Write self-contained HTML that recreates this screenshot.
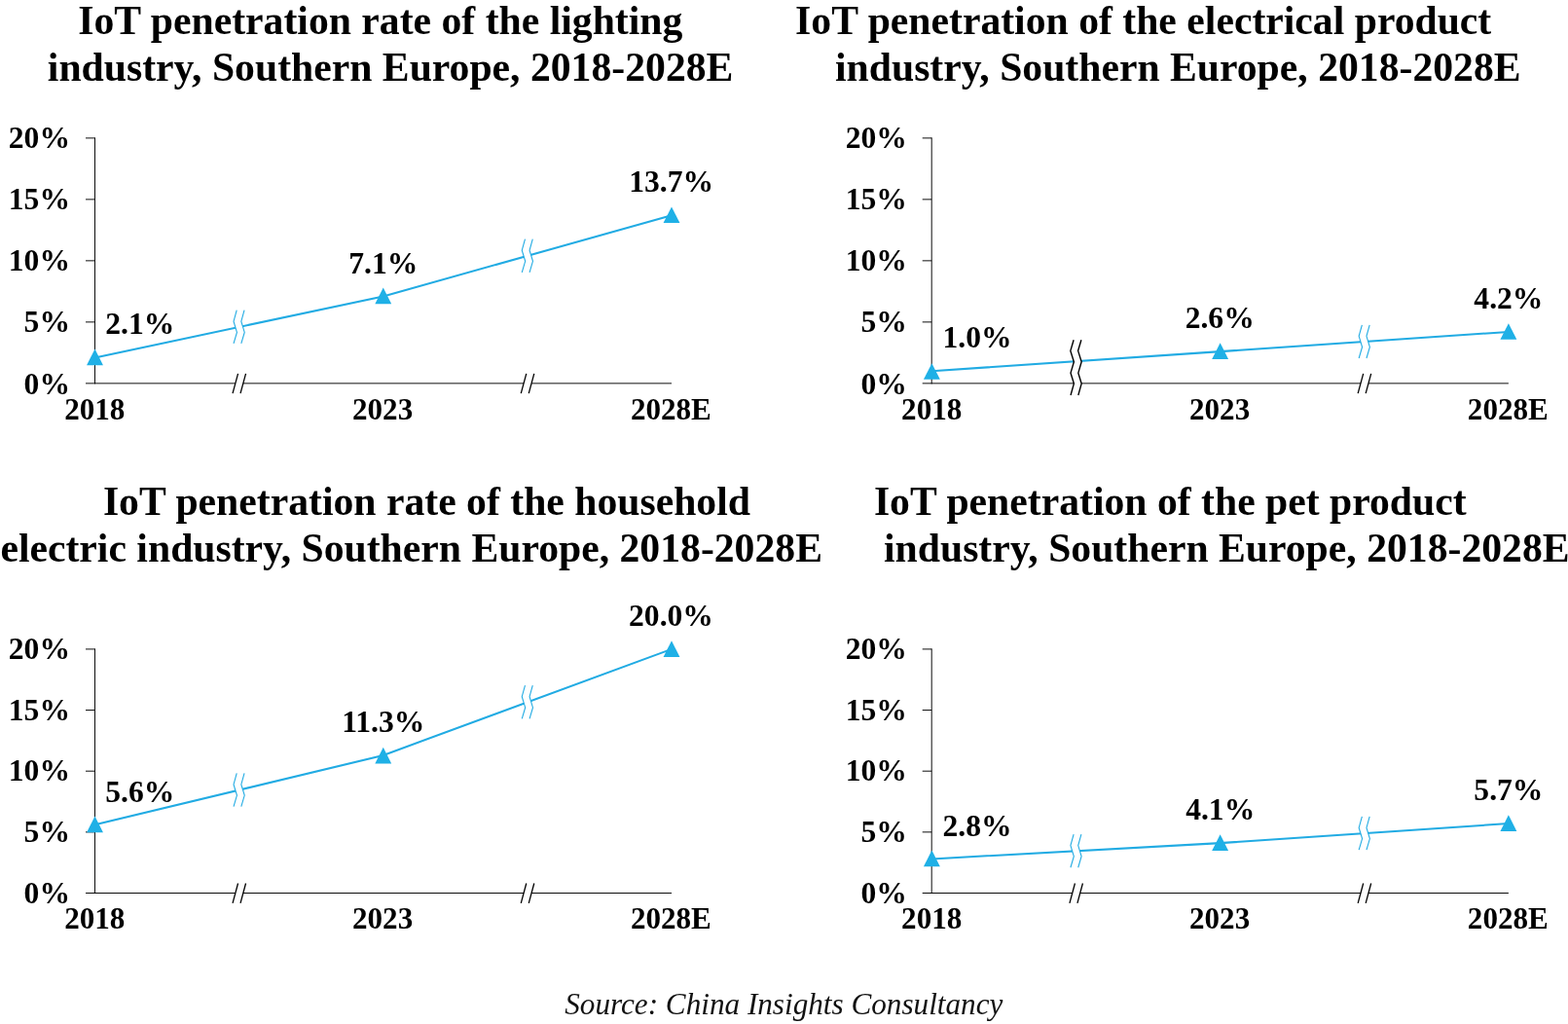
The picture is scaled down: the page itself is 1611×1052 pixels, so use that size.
<!DOCTYPE html>
<html lang="en">
<head>
<meta charset="utf-8">
<title>IoT penetration, Southern Europe, 2018-2028E</title>
<style>
html,body{margin:0;padding:0;background:#fff;}
body{width:1611px;height:1052px;overflow:hidden;font-family:"Liberation Serif",serif;}
svg{display:block;}
text{font-family:"Liberation Serif",serif;fill:#000;}
.t{font-size:31.6px;font-weight:bold;}
.x{font-size:31.1px;font-weight:bold;}
.h{font-size:41.7px;font-weight:bold;}
.s{font-size:31.2px;font-style:italic;fill:#111;}
</style>
</head>
<body>
<svg width="1611" height="1052" viewBox="0 0 1611 1052">
<g id="c1">
<path d="M97.5 141.37V394.37M88.00 393.87H690.00M88.00 330.87H97.5M88.00 267.87H97.5M88.00 204.87H97.5M88.00 141.87H97.5" stroke="#000" stroke-width="0.95" fill="none"/>
<text class="t" x="72.0" y="404.57" text-anchor="end">0%</text>
<text class="t" x="72.0" y="341.47" text-anchor="end">5%</text>
<text class="t" x="72.0" y="278.37" text-anchor="end">10%</text>
<text class="t" x="72.0" y="215.27" text-anchor="end">15%</text>
<text class="t" x="72.0" y="152.17" text-anchor="end">20%</text>
<text class="x" x="97.3" y="431.1" text-anchor="middle">2018</text>
<text class="x" x="393.1" y="431.1" text-anchor="middle">2023</text>
<text class="x" x="689.4" y="431.1" text-anchor="middle">2028E</text>
<polyline points="97.50,367.41 393.75,304.41 690.00,221.25" stroke="#21abe3" stroke-width="2.05" fill="none"/>
<path d="M243.22 318.71L240.03 330.21L243.43 341.41L240.03 352.91L247.82 352.91L251.22 341.41L247.82 330.21L251.03 318.71Z" fill="#fff"/><path d="M243.22 318.71L240.03 330.21L243.43 341.41L240.03 352.91 M251.03 318.71L247.83 330.21L251.23 341.41L247.83 352.91" stroke="#21abe3" stroke-width="1.1" fill="none"/>
<path d="M244.53 383.87L239.03 404.17H247.03L252.53 383.87Z" fill="#fff"/><path d="M244.53 383.87L239.03 404.17M252.53 383.87L247.03 404.17" stroke="#000" stroke-width="1.3" fill="none"/>
<path d="M539.48 245.63L536.27 257.13L539.67 268.33L536.27 279.83L544.08 279.83L547.48 268.33L544.08 257.13L547.27 245.63Z" fill="#fff"/><path d="M539.48 245.63L536.27 257.13L539.67 268.33L536.27 279.83 M547.27 245.63L544.07 257.13L547.47 268.33L544.07 279.83" stroke="#21abe3" stroke-width="1.1" fill="none"/>
<path d="M540.77 383.87L535.27 404.17H543.27L548.77 383.87Z" fill="#fff"/><path d="M540.77 383.87L535.27 404.17M548.77 383.87L543.27 404.17" stroke="#000" stroke-width="1.3" fill="none"/>
<path d="M97.50 358.61L105.95 375.21H89.05Z" fill="#1fb0e6"/>
<path d="M393.75 295.61L402.20 312.21H385.30Z" fill="#1fb0e6"/>
<path d="M690.00 212.45L698.45 229.05H681.55Z" fill="#1fb0e6"/>
<text class="t" x="143.8" y="343.1" text-anchor="middle">2.1%</text>
<text class="t" x="393.8" y="280.5" text-anchor="middle">7.1%</text>
<text class="t" x="689.7" y="197.1" text-anchor="middle">13.7%</text>
</g>
<g id="c2">
<path d="M957.2 141.37V394.37M947.70 393.87H1549.90M947.70 330.87H957.2M947.70 267.87H957.2M947.70 204.87H957.2M947.70 141.87H957.2" stroke="#000" stroke-width="0.95" fill="none"/>
<text class="t" x="931.9" y="404.57" text-anchor="end">0%</text>
<text class="t" x="931.9" y="341.47" text-anchor="end">5%</text>
<text class="t" x="931.9" y="278.37" text-anchor="end">10%</text>
<text class="t" x="931.9" y="215.27" text-anchor="end">15%</text>
<text class="t" x="931.9" y="152.17" text-anchor="end">20%</text>
<text class="x" x="957.2" y="431.1" text-anchor="middle">2018</text>
<text class="x" x="1253.1" y="431.1" text-anchor="middle">2023</text>
<text class="x" x="1549.3" y="431.1" text-anchor="middle">2028E</text>
<polyline points="957.40,381.27 1253.65,361.11 1549.90,340.95" stroke="#21abe3" stroke-width="2.05" fill="none"/>
<path d="M1103.12 349.27L1099.83 360.37L1103.38 371.77L1100.03 383.17L1103.38 394.07L1100.03 405.97L1107.83 405.97L1111.17 394.07L1107.83 383.17L1111.17 371.77L1107.62 360.37L1110.92 349.27Z" fill="#fff"/><path d="M1103.12 349.27L1099.83 360.37L1103.38 371.77L1100.03 383.17L1103.38 394.07L1100.03 405.97M1110.92 349.27L1107.62 360.37L1111.17 371.77L1107.83 383.17L1111.17 394.07L1107.83 405.97" stroke="#000" stroke-width="1.4" fill="none"/>
<path d="M1399.38 333.83L1396.18 345.33L1399.58 356.53L1396.18 368.03L1403.98 368.03L1407.38 356.53L1403.98 345.33L1407.18 333.83Z" fill="#fff"/><path d="M1399.38 333.83L1396.18 345.33L1399.58 356.53L1396.18 368.03 M1407.17 333.83L1403.98 345.33L1407.38 356.53L1403.98 368.03" stroke="#21abe3" stroke-width="1.1" fill="none"/>
<path d="M1400.68 383.87L1395.18 404.17H1403.18L1408.68 383.87Z" fill="#fff"/><path d="M1400.68 383.87L1395.18 404.17M1408.68 383.87L1403.18 404.17" stroke="#000" stroke-width="1.3" fill="none"/>
<path d="M957.40 373.22L965.85 389.82H948.95Z" fill="#1fb0e6"/>
<path d="M1253.65 352.31L1262.10 368.91H1245.20Z" fill="#1fb0e6"/>
<path d="M1549.90 332.15L1558.35 348.75H1541.45Z" fill="#1fb0e6"/>
<text class="t" x="1004.0" y="357.1" text-anchor="middle">1.0%</text>
<text class="t" x="1253.2" y="336.9" text-anchor="middle">2.6%</text>
<text class="t" x="1549.9" y="317.1" text-anchor="middle">4.2%</text>
</g>
<g id="c3">
<path d="M97.5 666.40V918.00M88.00 917.5H690.00M88.00 854.85H97.5M88.00 792.20H97.5M88.00 729.55H97.5M88.00 666.90H97.5" stroke="#000" stroke-width="0.95" fill="none"/>
<text class="t" x="72.0" y="927.90" text-anchor="end">0%</text>
<text class="t" x="72.0" y="865.15" text-anchor="end">5%</text>
<text class="t" x="72.0" y="802.40" text-anchor="end">10%</text>
<text class="t" x="72.0" y="739.65" text-anchor="end">15%</text>
<text class="t" x="72.0" y="676.90" text-anchor="end">20%</text>
<text class="x" x="97.3" y="954.3" text-anchor="middle">2018</text>
<text class="x" x="393.1" y="954.3" text-anchor="middle">2023</text>
<text class="x" x="689.4" y="954.3" text-anchor="middle">2028E</text>
<polyline points="97.50,847.33 393.75,775.91 690.00,666.90" stroke="#21abe3" stroke-width="2.05" fill="none"/>
<path d="M243.22 794.42L240.03 805.92L243.43 817.12L240.03 828.62L247.82 828.62L251.22 817.12L247.82 805.92L251.03 794.42Z" fill="#fff"/><path d="M243.22 794.42L240.03 805.92L243.43 817.12L240.03 828.62 M251.03 794.42L247.83 805.92L251.23 817.12L247.83 828.62" stroke="#21abe3" stroke-width="1.1" fill="none"/>
<path d="M244.53 907.50L239.03 927.80H247.03L252.53 907.50Z" fill="#fff"/><path d="M244.53 907.50L239.03 927.80M252.53 907.50L247.03 927.80" stroke="#000" stroke-width="1.3" fill="none"/>
<path d="M539.48 704.21L536.27 715.71L539.67 726.91L536.27 738.41L544.08 738.41L547.48 726.91L544.08 715.71L547.27 704.21Z" fill="#fff"/><path d="M539.48 704.21L536.27 715.71L539.67 726.91L536.27 738.41 M547.27 704.21L544.07 715.71L547.47 726.91L544.07 738.41" stroke="#21abe3" stroke-width="1.1" fill="none"/>
<path d="M540.77 907.50L535.27 927.80H543.27L548.77 907.50Z" fill="#fff"/><path d="M540.77 907.50L535.27 927.80M548.77 907.50L543.27 927.80" stroke="#000" stroke-width="1.3" fill="none"/>
<path d="M97.50 838.53L105.95 855.13H89.05Z" fill="#1fb0e6"/>
<path d="M393.75 767.81L402.20 784.41H385.30Z" fill="#1fb0e6"/>
<path d="M690.00 658.30L698.45 674.90H681.55Z" fill="#1fb0e6"/>
<text class="t" x="143.8" y="823.5" text-anchor="middle">5.6%</text>
<text class="t" x="393.8" y="752.1" text-anchor="middle">11.3%</text>
<text class="t" x="689.5" y="643.1" text-anchor="middle">20.0%</text>
</g>
<g id="c4">
<path d="M957.2 666.40V918.00M947.70 917.5H1549.90M947.70 854.85H957.2M947.70 792.20H957.2M947.70 729.55H957.2M947.70 666.90H957.2" stroke="#000" stroke-width="0.95" fill="none"/>
<text class="t" x="931.9" y="927.90" text-anchor="end">0%</text>
<text class="t" x="931.9" y="865.15" text-anchor="end">5%</text>
<text class="t" x="931.9" y="802.40" text-anchor="end">10%</text>
<text class="t" x="931.9" y="739.65" text-anchor="end">15%</text>
<text class="t" x="931.9" y="676.90" text-anchor="end">20%</text>
<text class="x" x="957.2" y="954.3" text-anchor="middle">2018</text>
<text class="x" x="1253.1" y="954.3" text-anchor="middle">2023</text>
<text class="x" x="1549.3" y="954.3" text-anchor="middle">2028E</text>
<polyline points="957.40,882.42 1253.65,866.13 1549.90,846.08" stroke="#21abe3" stroke-width="2.05" fill="none"/>
<path d="M1103.12 857.07L1099.93 868.57L1103.33 879.77L1099.93 891.27L1107.73 891.27L1111.12 879.77L1107.73 868.57L1110.93 857.07Z" fill="#fff"/><path d="M1103.12 857.07L1099.93 868.57L1103.33 879.77L1099.93 891.27 M1110.92 857.07L1107.73 868.57L1111.12 879.77L1107.73 891.27" stroke="#21abe3" stroke-width="1.1" fill="none"/>
<path d="M1104.43 907.50L1098.93 927.80H1106.93L1112.43 907.50Z" fill="#fff"/><path d="M1104.43 907.50L1098.93 927.80M1112.43 907.50L1106.93 927.80" stroke="#000" stroke-width="1.3" fill="none"/>
<path d="M1399.38 838.90L1396.18 850.40L1399.58 861.60L1396.18 873.10L1403.98 873.10L1407.38 861.60L1403.98 850.40L1407.18 838.90Z" fill="#fff"/><path d="M1399.38 838.90L1396.18 850.40L1399.58 861.60L1396.18 873.10 M1407.17 838.90L1403.98 850.40L1407.38 861.60L1403.98 873.10" stroke="#21abe3" stroke-width="1.1" fill="none"/>
<path d="M1400.68 907.50L1395.18 927.80H1403.18L1408.68 907.50Z" fill="#fff"/><path d="M1400.68 907.50L1395.18 927.80M1408.68 907.50L1403.18 927.80" stroke="#000" stroke-width="1.3" fill="none"/>
<path d="M957.40 873.62L965.85 890.22H948.95Z" fill="#1fb0e6"/>
<path d="M1253.65 857.33L1262.10 873.93H1245.20Z" fill="#1fb0e6"/>
<path d="M1549.90 837.28L1558.35 853.88H1541.45Z" fill="#1fb0e6"/>
<text class="t" x="1004.0" y="858.6" text-anchor="middle">2.8%</text>
<text class="t" x="1253.7" y="842.3" text-anchor="middle">4.1%</text>
<text class="t" x="1549.9" y="822.3" text-anchor="middle">5.7%</text>
</g>
<text class="h" x="80.3" y="35">IoT penetration rate of the lighting</text>
<text class="h" x="48.8" y="83">industry, Southern Europe, 2018-2028E</text>
<text class="h" x="817.1" y="35">IoT penetration of the electrical product</text>
<text class="h" x="858" y="83">industry, Southern Europe, 2018-2028E</text>
<text class="h" x="105.9" y="529">IoT penetration rate of the household</text>
<text class="h" x="0.4" y="576.8">electric industry, Southern Europe, 2018-2028E</text>
<text class="h" x="897.9" y="529">IoT penetration of the pet product</text>
<text class="h" x="908" y="576.8">industry, Southern Europe, 2018-2028E</text>
<text class="s" x="805.3" y="1042.3" text-anchor="middle">Source: China Insights Consultancy</text>
</svg>
</body>
</html>
